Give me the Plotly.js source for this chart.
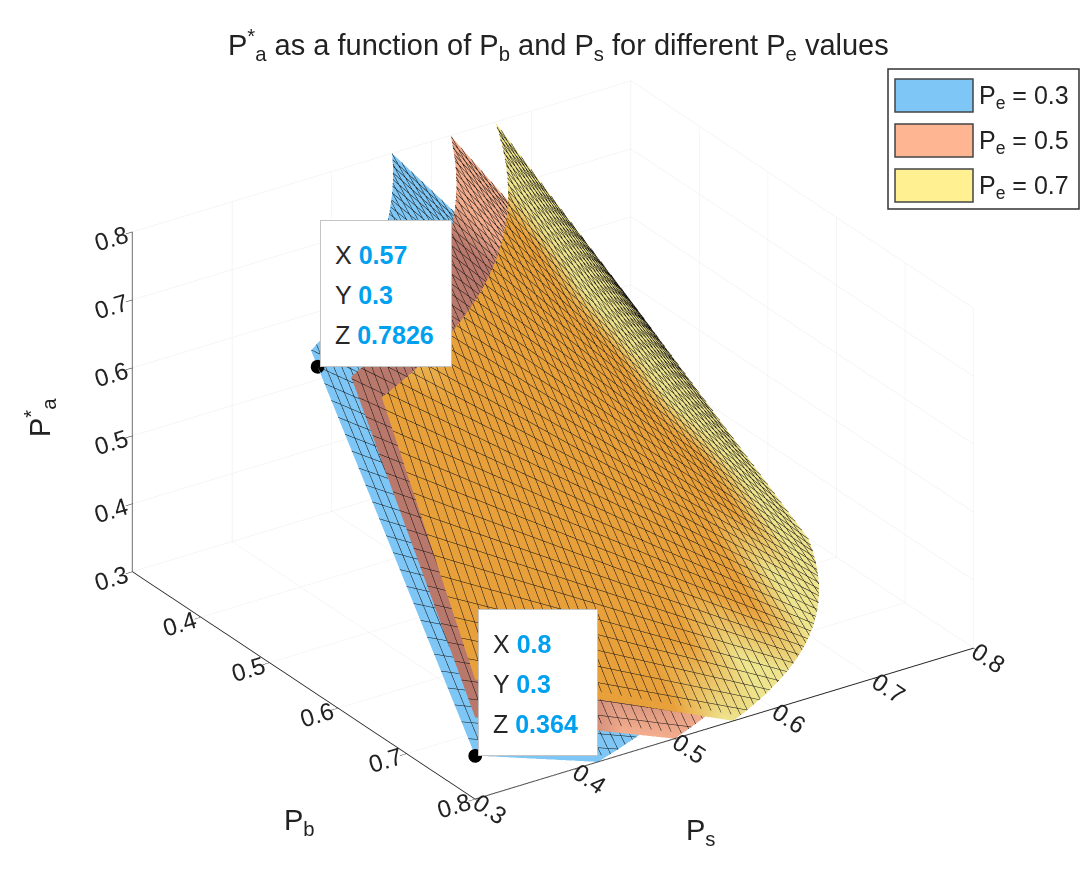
<!DOCTYPE html>
<html>
<head>
<meta charset="utf-8">
<script src="https://cdn.plot.ly/plotly-3.0.1.min.js"></script>
<style>html,body{margin:0;padding:0;background:#fff;}#chart{width:1089px;height:875px;}</style>
</head>
<body>
<div id="chart"></div>
<script>
// ---- data ----
const PB = [0.30,0.35,0.40,0.45,0.50,0.55,0.60,0.65,0.70,0.75,0.80];
const PS = [0.30,0.35,0.40,0.45,0.50,0.55,0.60,0.65,0.70,0.75,0.80];
// rows: PS, columns: PB
const Z_PE03 = [
[1.274,1.183,1.092,1.001,0.910,0.819,0.728,0.637,0.546,0.455,0.364],
[1.183,1.0985,1.014,0.9295,0.845,0.7605,0.676,0.5915,0.507,0.4225,0.338],
[1.092,1.014,0.936,0.858,0.780,0.702,0.624,0.546,0.468,0.390,0.312],
[1.001,0.9295,0.858,0.7865,0.715,0.6435,0.572,0.5005,0.429,0.3575,0.286],
[0.910,0.845,0.780,0.715,0.650,0.585,0.520,0.455,0.390,0.325,0.260],
[0.819,0.7605,0.702,0.6435,0.585,0.5265,0.468,0.4095,0.351,0.2925,0.234],
[0.728,0.676,0.624,0.572,0.520,0.468,0.416,0.364,0.312,0.260,0.208],
[0.637,0.5915,0.546,0.5005,0.455,0.4095,0.364,0.3185,0.273,0.2275,0.182],
[0.546,0.507,0.468,0.429,0.390,0.351,0.312,0.273,0.234,0.195,0.156],
[0.455,0.4225,0.390,0.3575,0.325,0.2925,0.260,0.2275,0.195,0.1625,0.130],
[0.364,0.338,0.312,0.286,0.260,0.234,0.208,0.182,0.156,0.130,0.104]
];
const Z_PE05 = [
[1.470,1.365,1.260,1.155,1.050,0.945,0.840,0.735,0.630,0.525,0.420],
[1.365,1.2675,1.170,1.0725,0.975,0.8775,0.780,0.6825,0.585,0.4875,0.390],
[1.260,1.170,1.080,0.990,0.900,0.810,0.720,0.630,0.540,0.450,0.360],
[1.155,1.0725,0.990,0.9075,0.825,0.7425,0.660,0.5775,0.495,0.4125,0.330],
[1.050,0.975,0.900,0.825,0.750,0.675,0.600,0.525,0.450,0.375,0.300],
[0.945,0.8775,0.810,0.7425,0.675,0.6075,0.540,0.4725,0.405,0.3375,0.270],
[0.840,0.780,0.720,0.660,0.600,0.540,0.480,0.420,0.360,0.300,0.240],
[0.735,0.6825,0.630,0.5775,0.525,0.4725,0.420,0.3675,0.315,0.2625,0.210],
[0.630,0.585,0.540,0.495,0.450,0.405,0.360,0.315,0.270,0.225,0.180],
[0.525,0.4875,0.450,0.4125,0.375,0.3375,0.300,0.2625,0.225,0.1875,0.150],
[0.420,0.390,0.360,0.330,0.300,0.270,0.240,0.210,0.180,0.150,0.120]
];
const Z_PE07 = [
[1.666,1.547,1.428,1.309,1.190,1.071,0.952,0.833,0.714,0.595,0.476],
[1.547,1.4365,1.326,1.2155,1.105,0.9945,0.884,0.7735,0.663,0.5525,0.442],
[1.428,1.326,1.224,1.122,1.020,0.918,0.816,0.714,0.612,0.510,0.408],
[1.309,1.2155,1.122,1.0285,0.935,0.8415,0.748,0.6545,0.561,0.4675,0.374],
[1.190,1.105,1.020,0.935,0.850,0.765,0.680,0.595,0.510,0.425,0.340],
[1.071,0.9945,0.918,0.8415,0.765,0.6885,0.612,0.5355,0.459,0.3825,0.306],
[0.952,0.884,0.816,0.748,0.680,0.612,0.544,0.476,0.408,0.340,0.272],
[0.833,0.7735,0.714,0.6545,0.595,0.5355,0.476,0.4165,0.357,0.2975,0.238],
[0.714,0.663,0.612,0.561,0.510,0.459,0.408,0.357,0.306,0.255,0.204],
[0.595,0.5525,0.510,0.4675,0.425,0.3825,0.340,0.2975,0.255,0.2125,0.170],
[0.476,0.442,0.408,0.374,0.340,0.306,0.272,0.238,0.204,0.170,0.136]
];
const PE_LABELS = ['0.3','0.5','0.7'];
// data tips
const TIP_X = [0.57, 0.8];
const TIP_Y = [0.3, 0.3];
const TIP_Z = [0.7826, 0.364];
const AX_TICKS = [0.3,0.4,0.5,0.6,0.7,0.8];

// ---- styling helpers ----
const FONT = 'Liberation Sans, Arial, Helvetica, sans-serif';
const ZMIN = 0.3, ZMAX = 0.8;
const VIEW = [0.734, -0.519, 0.727]; // view direction toward eye, data units
const EDGE = 0.035; // margin used for the see-through tint

function bil(grid, x, y) {
  const fi = Math.min(Math.max((x - PB[0]) / (PB[1]-PB[0]), 0), PB.length - 1.0001);
  const fj = Math.min(Math.max((y - PS[0]) / (PS[1]-PS[0]), 0), PS.length - 1.0001);
  const i = Math.floor(fi), j = Math.floor(fj), a = fi - i, b = fj - j;
  return grid[j][i]*(1-a)*(1-b) + grid[j][i+1]*a*(1-b) + grid[j+1][i]*(1-a)*b + grid[j+1][i+1]*a*b;
}
function covered(x, y, z0, lower) {
  z0 = Math.min(Math.max(z0, ZMIN), ZMAX);
  for (let t = 0.002; t < 2; t += 0.002) {
    const xx = x - t*VIEW[0], yy = y - t*VIEW[1], zz = z0 - t*VIEW[2];
    if (xx < PB[0] || yy > PS[PS.length-1] || zz < ZMIN) return 0;
    const fl = bil(lower, xx, yy);
    if (zz <= fl) {
      const inside = xx >= PB[0] + EDGE && yy <= PS[PS.length-1] - EDGE &&
                     fl <= ZMAX - 0.02 && fl >= ZMIN + 0.02;
      return inside ? 1 : 0;
    }
  }
  return 0;
}
function coverMap(upper, lower) {
  return upper.map((row, j) => row.map((z, i) => covered(PB[i], PS[j], z, lower)));
}

const mesh = {
  x: {show: true, start: 0.3, end: 0.8, size: 0.01, color: '#111', width: 1},
  y: {show: true, start: 0.3, end: 0.8, size: 0.01, color: '#111', width: 1}
};
const flat = {ambient: 1, diffuse: 0.05, specular: 0, roughness: 1, fresnel: 0};

function surf(z, sc, c0, c1) {
  return {
    type: 'surface', x: PB, y: PS, z: z,
    surfacecolor: sc, cmin: 0, cmax: 1,
    colorscale: [[0, c0], [1, c1]], showscale: false,
    contours: mesh, lighting: flat, hoverinfo: 'skip'
  };
}

const zeros = Z_PE03.map(r => r.map(() => 0));
const data = [
  surf(Z_PE03, zeros, '#7DC6F5', '#7DC6F5'),
  surf(Z_PE05, coverMap(Z_PE05, Z_PE03), '#F4AE8E', '#B9786C'),
  surf(Z_PE07, coverMap(Z_PE07, Z_PE05), '#EEE48E', '#E8A03A'),
  {type: 'scatter3d', mode: 'markers', x: TIP_X, y: TIP_Y, z: TIP_Z,
   marker: {size: 8, color: '#000'}, hoverinfo: 'skip', showlegend: false}
];

const axisBase = {
  range: [0.3, 0.8], tickvals: AX_TICKS, ticktext: AX_TICKS.map(v => v.toFixed(1)),
  showbackground: false, gridcolor: '#ececec', gridwidth: 1,
  showline: true, linecolor: '#222', linewidth: 2,
  ticks: 'outside', ticklen: 8, tickcolor: '#222', tickwidth: 1,
  zeroline: false, showspikes: false,
  tickfont: {family: FONT, size: 17, color: '#222'},
  title: {text: ''}
};

// data tip boxes: one box + three text lines each
const TIP_BOX_W = [128, 116];
const LINE_SHIFT = [112, 72, 32];
const sceneAnn = [];
TIP_X.forEach((x, i) => {
  sceneAnn.push({x: x, y: TIP_Y[i], z: TIP_Z[i], text: ' ', showarrow: false,
    xanchor: 'left', yanchor: 'bottom', xshift: 3, yshift: 0,
    width: TIP_BOX_W[i], height: 143, bgcolor: '#ffffff', bordercolor: '#c4c4c4', borderwidth: 1,
    font: {family: FONT, size: 10}});
  const vals = [['X', TIP_X[i]], ['Y', TIP_Y[i]], ['Z', TIP_Z[i]]];
  vals.forEach((v, k) => {
    sceneAnn.push({x: x, y: TIP_Y[i], z: TIP_Z[i], showarrow: false,
      xanchor: 'left', yanchor: 'middle', xshift: 16, yshift: LINE_SHIFT[k],
      text: v[0] + ' <b><span style="color:#00A0F0">' + v[1] + '</span></b>',
      font: {family: FONT, size: 25, color: '#262626'}});
  });
});

// legend drawn as shapes + annotations
const LEG_COLORS = ['#7DC6F5', '#FDB592', '#FFF191'];
const W = 1089, H = 875;
const px = (v) => v / W, py = (v) => 1 - v / H;
const shapes = [{type: 'rect', xref: 'paper', yref: 'paper', x0: px(888), x1: px(1079), y0: py(69), y1: py(209),
  line: {color: '#333', width: 1.5}, fillcolor: '#fff'}];
const annotations = [];
LEG_COLORS.forEach((c, k) => {
  const top = 79 + k*45;
  shapes.push({type: 'rect', xref: 'paper', yref: 'paper', x0: px(895), x1: px(973), y0: py(top), y1: py(top+33),
    line: {color: '#444', width: 1.5}, fillcolor: c});
  annotations.push({xref: 'paper', yref: 'paper', x: px(977), y: py(top+18), xanchor: 'left', yanchor: 'middle',
    showarrow: false, text: 'P<sub>e</sub> = ' + PE_LABELS[k], font: {family: FONT, size: 25, color: '#222'}});
});
annotations.push({xref: 'paper', yref: 'paper', x: px(558), y: py(45), xanchor: 'center', yanchor: 'middle', showarrow: false,
  text: 'P<sup>*</sup><sub>a</sub> as a function of P<sub>b</sub> and P<sub>s</sub> for different P<sub>e</sub> values',
  font: {family: FONT, size: 29, color: '#222'}});
annotations.push({xref: 'paper', yref: 'paper', x: px(282), y: py(842), showarrow: false,
  text: 'P<sub>b</sub>', font: {family: FONT, size: 29, color: '#222'}});
annotations.push({xref: 'paper', yref: 'paper', x: px(700), y: py(852), showarrow: false,
  text: 'P<sub>s</sub>', font: {family: FONT, size: 29, color: '#222'}});
annotations.push({xref: 'paper', yref: 'paper', x: px(18), y: py(418), showarrow: false, textangle: -90,
  text: 'P<sup>*</sup><sub>a</sub>', font: {family: FONT, size: 29, color: '#222'}});

const EYE_LEN = 1.7;
const layout = {
  width: W, height: H, margin: {l: 0, r: 0, t: 0, b: 0},
  paper_bgcolor: '#fff', showlegend: false,
  scene: {
    domain: {x: [0.0156, 1], y: [0, 0.994]},
    aspectmode: 'manual', aspectratio: {x: 1.407, y: 1.383, z: 0.874},
    camera: {eye: {x: 0.740*EYE_LEN, y: -0.500*EYE_LEN, z: 0.448*EYE_LEN},
             up: {x: 0, y: 0, z: 1}, center: {x: 0, y: 0, z: 0},
             projection: {type: 'orthographic'}},
    xaxis: Object.assign({}, axisBase),
    yaxis: Object.assign({}, axisBase),
    zaxis: Object.assign({}, axisBase),
    annotations: sceneAnn
  },
  shapes: shapes, annotations: annotations
};

Plotly.newPlot('chart', data, layout, {displayModeBar: false});
</script>
</body>
</html>
